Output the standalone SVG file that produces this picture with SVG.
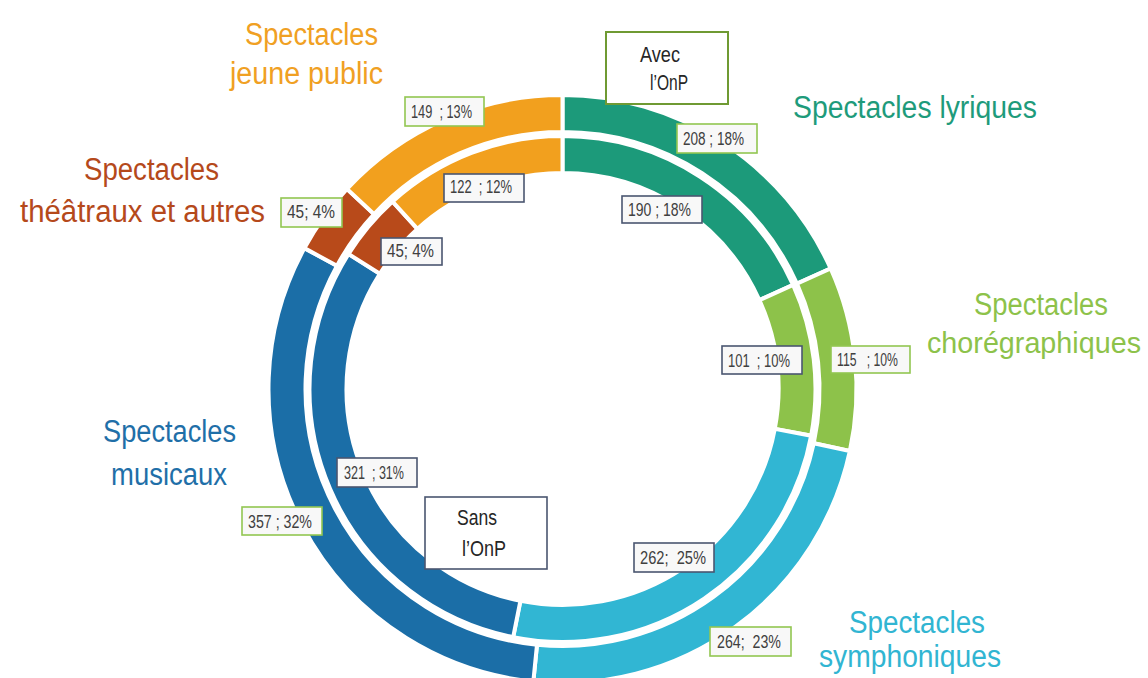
<svg xmlns="http://www.w3.org/2000/svg" width="1148" height="678" viewBox="0 0 1148 678">
<style>
.seg{stroke:#ffffff;stroke-width:4;stroke-linejoin:miter}
.title{font-family:"Liberation Sans",Arial,sans-serif;font-size:31px}
.lbl{font-family:"Liberation Sans",Arial,sans-serif;font-size:18px;fill:#404040}
.boxO{fill:#f8f8f8;stroke:#92c651;stroke-width:1.6}
.boxI{fill:#f8f8f8;stroke:#4a5670;stroke-width:1.6}
.leg{font-family:"Liberation Sans",Arial,sans-serif;font-size:22px;fill:#262626}
</style>
<rect width="1148" height="678" fill="#ffffff"/>

<g id="outer-ring">
<path class="seg" fill="#1c9a7a" d="M562.5,95 A294,294 0 0 1 830.66,268.48 L796.92,283.65 A257,257 0 0 0 562.5,132 Z"/>
<path class="seg" fill="#8dc24a" d="M830.66,268.48 A294,294 0 0 1 849.88,451.02 L813.72,443.22 A257,257 0 0 0 796.92,283.65 Z"/>
<path class="seg" fill="#31b6d3" d="M849.88,451.02 A294,294 0 0 1 533.33,681.55 L537.00,644.73 A257,257 0 0 0 813.72,443.22 Z"/>
<path class="seg" fill="#1b6ea7" d="M533.33,681.55 A294,294 0 0 1 304.44,248.13 L336.92,265.86 A257,257 0 0 0 537.00,644.73 Z"/>
<path class="seg" fill="#b84a1a" d="M304.44,248.13 A294,294 0 0 1 347.01,189.00 L374.13,214.17 A257,257 0 0 0 336.92,265.86 Z"/>
<path class="seg" fill="#f2a01e" d="M347.01,189.00 A294,294 0 0 1 562.5,95 L562.5,132 A257,257 0 0 0 374.13,214.17 Z"/>
</g>

<g id="inner-ring">
<path class="seg" fill="#1c9a7a" d="M562.5,136 A253,253 0 0 1 793.10,284.91 L759.37,300.13 A216,216 0 0 0 562.5,173 Z"/>
<path class="seg" fill="#8dc24a" d="M793.10,284.91 A253,253 0 0 1 811.16,435.69 L774.79,428.86 A216,216 0 0 0 759.37,300.13 Z"/>
<path class="seg" fill="#31b6d3" d="M811.16,435.69 A253,253 0 0 1 513.19,637.15 L520.40,600.86 A216,216 0 0 0 774.79,428.86 Z"/>
<path class="seg" fill="#1b6ea7" d="M513.19,637.15 A253,253 0 0 1 348.53,254.00 L379.82,273.75 A216,216 0 0 0 520.40,600.86 Z"/>
<path class="seg" fill="#b84a1a" d="M348.53,254.00 A253,253 0 0 1 392.59,201.55 L417.44,228.96 A216,216 0 0 0 379.82,273.75 Z"/>
<path class="seg" fill="#f2a01e" d="M392.59,201.55 A253,253 0 0 1 562.5,136 L562.5,173 A216,216 0 0 0 417.44,228.96 Z"/>
</g>

<g id="legend-avec">
<rect x="606" y="32" width="122" height="72" fill="#ffffff" stroke="#6f9a33" stroke-width="2"/>
<text class="leg" x="640" y="62" textLength="40" lengthAdjust="spacingAndGlyphs">Avec</text>
<text class="leg" x="650" y="90" textLength="38" lengthAdjust="spacingAndGlyphs">l’OnP</text>
</g>
<g id="legend-sans">
<rect x="425" y="497" width="122" height="72" fill="#ffffff" stroke="#4a5670" stroke-width="1.6"/>
<text class="leg" x="457" y="525" textLength="40" lengthAdjust="spacingAndGlyphs">Sans</text>
<text class="leg" x="462" y="556" textLength="44" lengthAdjust="spacingAndGlyphs">l’OnP</text>
</g>

<g id="cat-lyriques">
<text class="title" fill="#1e9b7b" x="793" y="118" textLength="244" lengthAdjust="spacingAndGlyphs">Spectacles lyriques</text>
<rect class="boxO" x="677" y="124" width="80" height="29"/>
<text class="lbl" x="683" y="145" textLength="61" lengthAdjust="spacingAndGlyphs" xml:space="preserve">208 ; 18%</text>
<rect class="boxI" x="622" y="196" width="80" height="27"/>
<text class="lbl" x="628" y="216" textLength="63" lengthAdjust="spacingAndGlyphs" xml:space="preserve">190 ; 18%</text>
</g>

<g id="cat-choregraphiques">
<text class="title" fill="#8dc24a" x="974" y="315" textLength="134" lengthAdjust="spacingAndGlyphs">Spectacles</text>
<text class="title" fill="#8dc24a" x="927" y="353" font-size="29" textLength="214" lengthAdjust="spacingAndGlyphs" style="font-size:29px">chorégraphiques</text>
<rect class="boxI" x="722" y="346" width="80" height="28"/>
<text class="lbl" x="728" y="367" textLength="62" lengthAdjust="spacingAndGlyphs" xml:space="preserve">101  ; 10%</text>
<rect class="boxO" x="831" y="346" width="79" height="27"/>
<text class="lbl" x="837" y="366" textLength="61" lengthAdjust="spacingAndGlyphs" xml:space="preserve">115   ; 10%</text>
</g>

<g id="cat-symphoniques">
<text class="title" fill="#31b5d2" x="849" y="633" textLength="136" lengthAdjust="spacingAndGlyphs">Spectacles</text>
<text class="title" fill="#31b5d2" x="819" y="667" textLength="182" lengthAdjust="spacingAndGlyphs">symphoniques</text>
<rect class="boxI" x="634" y="543" width="80" height="29"/>
<text class="lbl" x="640" y="564" textLength="66" lengthAdjust="spacingAndGlyphs" xml:space="preserve">262;  25%</text>
<rect class="boxO" x="710" y="627" width="81" height="29"/>
<text class="lbl" x="717" y="648" textLength="64" lengthAdjust="spacingAndGlyphs" xml:space="preserve">264;  23%</text>
</g>

<g id="cat-musicaux">
<text class="title" fill="#1f6fa8" x="103" y="442" textLength="133" lengthAdjust="spacingAndGlyphs">Spectacles</text>
<text class="title" fill="#1f6fa8" x="111" y="485" textLength="116" lengthAdjust="spacingAndGlyphs">musicaux</text>
<rect class="boxI" x="337" y="458" width="80" height="29"/>
<text class="lbl" x="344" y="479" textLength="60" lengthAdjust="spacingAndGlyphs" xml:space="preserve">321  ; 31%</text>
<rect class="boxO" x="242" y="507" width="80" height="28"/>
<text class="lbl" x="248" y="528" textLength="64" lengthAdjust="spacingAndGlyphs" xml:space="preserve">357 ; 32%</text>
</g>

<g id="cat-theatraux">
<text class="title" fill="#b5491b" x="84" y="180" textLength="135" lengthAdjust="spacingAndGlyphs">Spectacles</text>
<text class="title" fill="#b5491b" x="20" y="222" textLength="245" lengthAdjust="spacingAndGlyphs">théâtraux et autres</text>
<rect class="boxO" x="281" y="198" width="61" height="29"/>
<text class="lbl" x="287" y="218" textLength="48" lengthAdjust="spacingAndGlyphs" xml:space="preserve">45; 4%</text>
<rect class="boxI" x="381" y="238" width="61" height="27"/>
<text class="lbl" x="387" y="257" textLength="47" lengthAdjust="spacingAndGlyphs" xml:space="preserve">45; 4%</text>
</g>

<g id="cat-jeune-public">
<text class="title" fill="#f0a023" x="245" y="45" textLength="133" lengthAdjust="spacingAndGlyphs">Spectacles</text>
<text class="title" fill="#f0a023" x="230" y="84" textLength="153" lengthAdjust="spacingAndGlyphs">jeune public</text>
<rect class="boxO" x="405" y="97" width="79" height="29"/>
<text class="lbl" x="411" y="118" textLength="61" lengthAdjust="spacingAndGlyphs" xml:space="preserve">149  ; 13%</text>
<rect class="boxI" x="444" y="174" width="80" height="28"/>
<text class="lbl" x="450" y="193" textLength="62" lengthAdjust="spacingAndGlyphs" xml:space="preserve">122  ; 12%</text>
</g>
</svg>
